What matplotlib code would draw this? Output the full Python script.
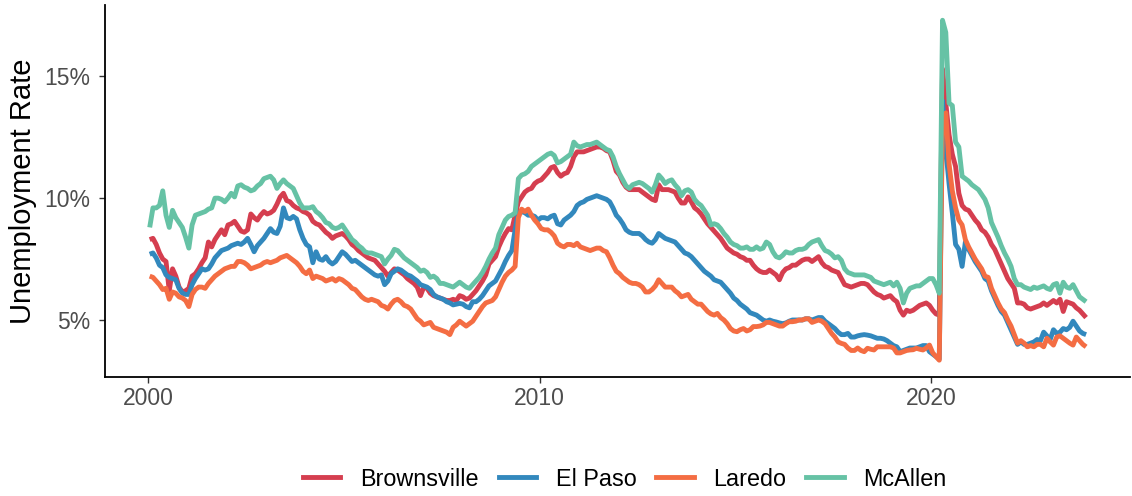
import numpy as np
import matplotlib
matplotlib.use("Agg")
import matplotlib.pyplot as plt
from matplotlib.lines import Line2D

plt.rcParams['font.family'] = ['Liberation Sans', 'DejaVu Sans']

series_names = ["Brownsville", "El Paso", "Laredo", "McAllen"]
series_colors = ["#D53E4F", "#3288BD", "#F46D43", "#66C2A5"]
start_year = 2000
x_ticks = [2000, 2010, 2020]
x_tick_labels = ["2000", "2010", "2020"]
y_ticks = [5, 10, 15]
y_tick_labels = ["5%", "10%", "15%"]
y_title = "Unemployment Rate"

# monthly unemployment rate (%), Jan 2000 - Dec 2023
brownsville = [
    8.3, 8.35, 8.1, 7.75, 7.5, 7.4, 6.2, 7.1, 6.8, 6.35, 6.15, 6.2,
    6.3, 6.8, 6.9, 7.1, 7.35, 7.55, 8.2, 8.0, 8.3, 8.5, 8.7, 8.5,
    8.9, 8.95, 9.05, 8.85, 8.65, 8.6, 8.7, 9.35, 9.2, 9.1, 9.3, 9.45,
    9.35, 9.4, 9.5, 9.75, 10.05, 10.2, 9.9, 9.85, 9.7, 9.6, 9.55, 9.45,
    9.4, 9.3, 9.05, 8.95, 8.9, 8.75, 8.6, 8.5, 8.35, 8.45, 8.5, 8.55,
    8.45, 8.3, 8.1, 8.0, 7.85, 7.75, 7.65, 7.55, 7.5, 7.45, 7.3, 7.15,
    7.0, 6.8, 6.95, 7.1, 7.05, 6.95, 6.85, 6.7, 6.6, 6.5, 6.35, 6.0,
    6.35, 6.3, 6.1, 6.0, 5.95, 5.9, 5.85, 5.8, 5.8, 5.85, 5.8, 6.0,
    5.95, 5.85, 5.9, 6.05, 6.2, 6.4, 6.6, 6.85, 7.3, 7.45, 7.6, 8.0,
    8.3, 8.55, 8.75, 8.7, 9.3, 9.85, 10.05, 10.25, 10.35, 10.4, 10.6, 10.7,
    10.75, 10.9, 11.05, 11.25, 11.3, 11.05, 10.9, 11.0, 11.05, 11.3, 11.7, 11.9,
    11.9, 11.9, 11.95, 12.0, 12.05, 12.1, 12.1, 12.05, 11.95, 11.9, 11.55, 11.1,
    10.95, 10.65, 10.45, 10.35, 10.35, 10.35, 10.35, 10.25, 10.15, 10.05, 9.95, 9.9,
    10.55, 10.35, 10.35, 10.35, 10.3, 10.25, 10.0, 9.8, 9.8, 10.05, 9.85, 9.6,
    9.5, 9.35, 9.15, 8.95, 8.8, 8.65, 8.5, 8.35, 8.15, 7.95, 7.85, 7.75,
    7.7, 7.6, 7.55, 7.45, 7.45, 7.25, 7.1, 7.0, 6.95, 6.95, 7.05, 6.95,
    6.85, 6.65, 6.95, 7.1, 7.15, 7.25, 7.25, 7.35, 7.45, 7.5, 7.5, 7.4,
    7.5, 7.6, 7.35, 7.2, 7.15, 7.05, 7.0, 6.95, 6.7, 6.45, 6.4, 6.35,
    6.4, 6.45, 6.5, 6.5, 6.45, 6.3, 6.15, 6.05, 6.0, 5.9, 5.95, 6.0,
    5.85, 5.75, 5.4, 5.2, 5.4, 5.35, 5.4, 5.5, 5.6, 5.65, 5.7, 5.6,
    5.4, 5.25, 5.2, 15.3, 13.9, 12.6, 11.8, 11.3, 10.2, 9.7, 9.55, 9.5,
    9.3, 9.1, 8.95, 8.7, 8.6, 8.4, 8.1, 7.9, 7.6, 7.3, 7.0, 6.7,
    6.5, 6.3, 5.7, 5.7, 5.65, 5.5, 5.45, 5.5, 5.55, 5.6, 5.7, 5.6,
    5.7, 5.8, 5.7, 5.85, 5.35, 5.75, 5.7, 5.65, 5.5, 5.4, 5.25, 5.1,
]

el_paso = [
    7.7, 7.75, 7.55, 7.25, 7.15, 6.85, 6.75, 6.7, 6.65, 6.3, 6.1, 6.05,
    6.05, 6.45, 6.7, 6.9, 7.1, 7.05, 7.1, 7.3, 7.55, 7.7, 7.85, 7.9,
    7.95, 8.05, 8.1, 8.15, 8.1, 8.2, 8.35, 8.1, 7.8, 8.05, 8.2, 8.35,
    8.55, 8.75, 8.6, 8.55, 8.85, 9.6, 9.2, 9.15, 9.25, 9.15, 8.7, 8.35,
    8.1, 8.0, 7.35, 7.8, 7.5, 7.45, 7.6, 7.4, 7.3, 7.4, 7.6, 7.8,
    7.7, 7.55, 7.4, 7.45, 7.35, 7.25, 7.15, 7.05, 6.95, 6.85, 6.8, 6.85,
    6.45, 6.6, 6.9, 7.0, 7.1, 7.05, 6.95, 6.85, 6.8, 6.7, 6.6, 6.45,
    6.4, 6.35, 6.25, 6.05, 5.95, 5.9, 5.85, 5.75, 5.7, 5.62, 5.65, 5.68,
    5.65, 5.55, 5.5, 5.75, 5.75, 5.85, 6.0, 6.2, 6.4, 6.5, 6.6, 6.85,
    7.1, 7.4, 7.65, 7.85, 8.7, 9.4, 9.45, 9.4, 9.3, 9.3, 9.25, 9.1,
    9.2, 9.2, 9.15, 9.25, 9.3, 8.95, 8.9, 9.1, 9.2, 9.3, 9.45, 9.7,
    9.8, 9.85, 9.95, 10.0, 10.05, 10.1, 10.05, 10.0, 9.95, 9.85, 9.6, 9.3,
    9.15, 8.95, 8.7, 8.6, 8.55, 8.55, 8.55, 8.45, 8.3, 8.2, 8.15, 8.3,
    8.55, 8.45, 8.35, 8.3, 8.25, 8.2, 8.05, 7.9, 7.75, 7.7, 7.6, 7.45,
    7.3, 7.15, 7.0, 6.9, 6.8, 6.65, 6.6, 6.55, 6.4, 6.25, 6.1, 5.9,
    5.8, 5.65, 5.55, 5.45, 5.3, 5.25, 5.2, 5.1, 5.0, 4.95, 5.0, 4.95,
    4.92, 4.88, 4.85, 4.88, 4.95, 5.0, 5.0, 5.0, 5.0, 5.05, 5.05, 5.0,
    5.05, 5.1, 5.1, 4.95, 4.85, 4.75, 4.65, 4.5, 4.4, 4.4, 4.45, 4.3,
    4.3, 4.35, 4.38, 4.4, 4.38, 4.35, 4.3, 4.25, 4.25, 4.22, 4.15, 4.05,
    3.95, 3.9, 3.7, 3.75, 3.8, 3.85, 3.85, 3.85, 3.9, 3.95, 3.95, 3.7,
    3.6, 3.5, 3.4, 14.0, 12.0, 10.6, 9.4, 8.1, 7.9, 7.2, 8.2, 7.9,
    7.65, 7.4, 7.2, 7.0, 6.7, 6.6, 6.2, 5.9, 5.6, 5.35, 5.2, 4.9,
    4.6, 4.3, 4.0, 4.1, 4.0, 4.0, 4.05, 4.1, 4.2, 4.15, 4.5, 4.35,
    4.2, 4.6, 4.45, 4.5, 4.65, 4.6, 4.7, 4.95, 4.75, 4.55, 4.45, 4.4,
]

laredo = [
    6.8, 6.75, 6.6, 6.45, 6.25, 6.3, 5.85, 6.15, 6.1, 5.95, 5.9, 5.8,
    5.55, 6.05, 6.25, 6.35, 6.35, 6.3, 6.5, 6.65, 6.8, 6.9, 7.0, 7.1,
    7.15, 7.2, 7.2, 7.4, 7.4, 7.35, 7.25, 7.1, 7.15, 7.2, 7.25, 7.35,
    7.4, 7.35, 7.4, 7.45, 7.55, 7.6, 7.65, 7.55, 7.45, 7.35, 7.2, 7.0,
    6.9, 7.05, 6.7, 6.8, 6.75, 6.7, 6.6, 6.65, 6.7, 6.6, 6.7, 6.65,
    6.55, 6.45, 6.3, 6.25, 6.1, 5.95, 5.85, 5.8, 5.85, 5.8, 5.75, 5.6,
    5.55, 5.45, 5.65, 5.8, 5.85, 5.75, 5.6, 5.55, 5.45, 5.25, 5.05, 4.95,
    4.8, 4.85, 4.9, 4.7, 4.65, 4.6, 4.55, 4.5, 4.4, 4.7, 4.8, 4.95,
    4.85, 4.75, 4.85, 4.95, 5.15, 5.35, 5.55, 5.7, 5.75, 5.8, 5.95, 6.25,
    6.55, 6.8, 6.95, 7.05, 7.2, 9.2, 9.55, 9.45, 9.55, 9.3, 9.1, 8.95,
    8.75, 8.7, 8.7, 8.6, 8.45, 8.15, 8.05, 8.0, 8.1, 8.1, 8.05, 8.15,
    8.0, 7.95, 7.9, 7.85, 7.9, 7.95, 7.95, 7.85, 7.8, 7.55, 7.25, 7.0,
    6.9, 6.75, 6.65, 6.55, 6.5, 6.5, 6.45, 6.35, 6.15, 6.15, 6.25, 6.4,
    6.65, 6.5, 6.35, 6.35, 6.35, 6.2, 6.1, 5.95, 6.0, 6.05, 5.85, 5.75,
    5.65, 5.65, 5.5, 5.35, 5.25, 5.2, 5.27, 5.1, 5.0, 4.85, 4.65, 4.55,
    4.52, 4.6, 4.65, 4.55, 4.6, 4.73, 4.73, 4.75, 4.8, 4.9, 4.9, 4.85,
    4.8, 4.75, 4.75, 4.85, 4.93, 4.93, 4.95, 5.0, 5.0, 5.05, 5.05, 4.9,
    4.95, 5.0, 4.95, 4.85, 4.65, 4.45, 4.3, 4.1, 4.04, 4.0, 3.85, 3.75,
    3.75, 3.85, 3.75, 3.7, 3.84, 3.8, 3.77, 3.9, 3.9, 3.9, 3.9, 3.9,
    3.85, 3.65, 3.65, 3.7, 3.75, 3.77, 3.78, 3.84, 3.8, 3.77, 3.85, 3.97,
    3.65, 3.5, 3.35, 13.3, 13.5, 11.4, 10.3, 9.6, 9.1, 8.9, 8.3, 8.0,
    7.75, 7.5, 7.3, 7.1, 6.8, 6.75, 6.3, 6.0, 5.7, 5.45, 5.3, 5.0,
    4.75, 4.4, 4.05, 4.15, 4.05, 3.9, 3.95, 3.9, 4.0, 4.0, 3.9, 4.25,
    4.1, 3.97, 4.3, 4.35, 4.25, 4.15, 4.05, 3.97, 4.3, 4.15, 4.0, 3.9,
]

mcallen = [
    8.8, 9.6, 9.6, 9.7, 10.3, 9.3, 8.8, 9.5, 9.2, 9.0, 8.8, 8.4,
    7.95, 8.9, 9.3, 9.35, 9.4, 9.45, 9.55, 9.6, 10.0, 10.0, 9.95, 9.85,
    10.0, 10.2, 10.05, 10.5, 10.55, 10.45, 10.4, 10.3, 10.35, 10.5, 10.6, 10.8,
    10.85, 10.9, 10.75, 10.4, 10.6, 10.75, 10.6, 10.5, 10.4, 10.1, 9.8, 9.6,
    9.6, 9.6, 9.65, 9.45, 9.35, 9.2, 9.0, 8.95, 8.8, 8.75, 8.8, 8.9,
    8.7, 8.5, 8.3, 8.2, 8.05, 7.95, 7.8, 7.75, 7.75, 7.7, 7.65, 7.6,
    7.3, 7.5, 7.65, 7.9, 7.85, 7.7, 7.55, 7.45, 7.35, 7.25, 7.15, 7.0,
    7.05, 6.95, 6.75, 6.8, 6.7, 6.5, 6.5, 6.45, 6.4, 6.35, 6.45, 6.55,
    6.45, 6.35, 6.3, 6.45, 6.6, 6.75, 6.95, 7.2, 7.5, 7.75, 7.95, 8.5,
    8.8, 9.1, 9.25, 9.3, 9.4, 10.8, 10.95, 11.0, 11.1, 11.3, 11.4, 11.5,
    11.6, 11.7, 11.8, 11.85, 11.75, 11.45, 11.5, 11.6, 11.7, 11.8, 12.3, 12.15,
    12.1, 12.15, 12.2, 12.2, 12.25, 12.3, 12.2, 12.1, 12.0, 11.95, 11.7, 11.3,
    11.0, 10.75, 10.5, 10.4, 10.55, 10.6, 10.65, 10.6, 10.5, 10.4, 10.25, 10.55,
    10.95, 10.8, 10.6, 10.7, 10.75, 10.55, 10.4, 10.1, 10.3, 10.35, 10.25, 9.95,
    9.8, 9.7, 9.5, 9.3, 8.9, 8.95, 8.9, 8.75, 8.55, 8.4, 8.2, 8.1,
    8.05, 7.95, 7.95, 8.0, 7.9, 7.9, 8.0, 7.9, 7.95, 8.2, 8.1, 7.8,
    7.6, 7.55, 7.65, 7.8, 7.75, 7.75, 7.85, 7.9, 7.9, 7.95, 8.1, 8.2,
    8.25, 8.3, 8.05, 7.85, 7.8, 7.7, 7.55, 7.6, 7.45, 7.1, 6.95, 6.9,
    6.85, 6.85, 6.85, 6.85, 6.8, 6.75, 6.6, 6.55, 6.5, 6.45, 6.5, 6.55,
    6.4, 6.55, 6.3, 5.7, 6.1, 6.3, 6.35, 6.4, 6.4, 6.5, 6.6, 6.7,
    6.7, 6.45, 6.1, 17.3, 16.8, 13.9, 13.8, 12.3, 12.1, 10.9, 10.8, 10.7,
    10.55, 10.45, 10.35, 10.15, 9.95, 9.6, 9.0, 8.7, 8.4, 8.05, 7.75, 7.5,
    7.2, 6.7, 6.45, 6.45, 6.35, 6.3, 6.25, 6.35, 6.3, 6.35, 6.4, 6.3,
    6.25, 6.45, 6.5, 6.1, 6.55, 6.35, 6.3, 6.45, 6.2, 5.95, 5.85, 5.75,
]

series_values = [brownsville, el_paso, laredo, mcallen]

W, H = 1132, 496
fig = plt.figure(figsize=(W / 100, H / 100), dpi=100)
ax_left, ax_right, ax_top, ax_bottom = 105, 1130, 5, 377
ax = fig.add_axes([ax_left / W, 1 - ax_bottom / H,
                   (ax_right - ax_left) / W, (ax_bottom - ax_top) / H])

line_w = 3.5
for name, vals, color in zip(series_names, series_values, series_colors):
    x = start_year + (np.arange(len(vals)) + 0.5) / 12.0
    ax.plot(x, vals, color=color, lw=line_w, label=name,
            solid_joinstyle='round', solid_capstyle='butt')

ax.set_xlim(1998.90, 2025.08)
ax.set_ylim(2.661, 17.926)

ax.set_xticks(x_ticks)
ax.set_xticklabels(x_tick_labels)
ax.set_yticks(y_ticks)
ax.set_yticklabels(y_tick_labels)

for s in ['top', 'right']:
    ax.spines[s].set_visible(False)
for s in ['left', 'bottom']:
    ax.spines[s].set_linewidth(1.3)
    ax.spines[s].set_color('black')

ax.tick_params(axis='both', length=4.3, width=1.0, color='#333333',
               labelsize=16.5, labelcolor='#4D4D4D')
ax.tick_params(axis='x', pad=3)
ax.tick_params(axis='y', pad=6)

ax.set_ylabel(y_title, fontsize=21, color='black', va='center')
ax.yaxis.set_label_coords((22.5 - ax_left) / (ax_right - ax_left), 0.5)

handles = [Line2D([], [], color=c, lw=line_w) for c in series_colors]
fig.legend(handles, series_names, loc='center',
           bbox_to_anchor=(625 / W, 1 - 479 / H), ncol=4, frameon=False,
           fontsize=16.8, handlelength=1.6, handletextpad=0.85,
           columnspacing=0.85)

fig.savefig("out.png", dpi=100)
